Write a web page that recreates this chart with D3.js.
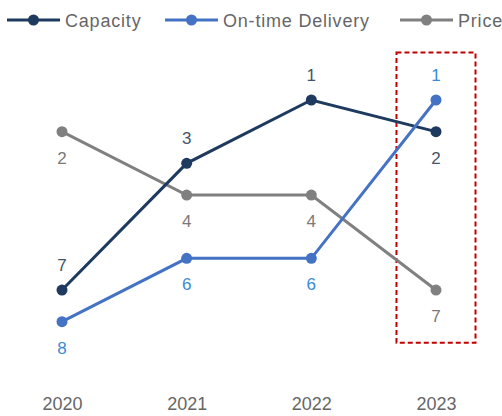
<!DOCTYPE html>
<html><head><meta charset="utf-8">
<script src="https://cdn.jsdelivr.net/npm/d3@7"></script>
<style>html,body{margin:0;padding:0;background:#fff;}</style>
</head><body>
<svg id="chart" width="502" height="416"></svg>
<script>
const years = ["2020", "2021", "2022", "2023"];
const seriesNames = ["Capacity", "On-time Delivery", "Price"];
const capacity = [7, 3, 1, 2];
const delivery = [8, 6, 6, 1];
const price = [2, 4, 4, 7];
const rankDomain = [1, 8];
const highlightYear = "2023";

const colors = ["#1f3a5f", "#4472c4", "#808080"];
const labelColors = ["#44546a", "#3a8ad6", "#7a7a7a"];
const labelAbove = [[true, true, true, false], [false, false, false, true], [false, false, false, false]];
const values = [capacity, delivery, price];

const svg = d3.select("#chart");
const font = "'Liberation Sans', Arial, sans-serif";

const x = d3.scalePoint().domain(years).range([62, 436]);
const y = d3.scaleLinear().domain(rankDomain).range([100, 321.7]);

// highlight rect
const hx = x(highlightYear), half = x.step() * 0.317;
svg.append("rect")
  .attr("x", hx - half).attr("y", y(1) - 47.5)
  .attr("width", half * 2).attr("height", y(8) + 21 - (y(1) - 47.5))
  .attr("fill", "none").attr("stroke", "#c00000").attr("stroke-width", 2)
  .attr("stroke-dasharray", "5,3");

// x axis
const xAxis = d3.axisBottom(x).tickSize(0).tickPadding(0);
const gx = svg.append("g").attr("transform", "translate(0,397)").call(xAxis);
gx.select(".domain").remove();
gx.selectAll("text").attr("font-family", font).attr("font-size", 18).attr("fill", "#666");

const line = d3.line().x((d, i) => x(years[i])).y(d => y(d));

// draw order: price, capacity, delivery
[2, 0, 1].forEach(s => {
  const g = svg.append("g");
  g.append("path").datum(values[s]).attr("d", line)
    .attr("fill", "none").attr("stroke", colors[s]).attr("stroke-width", 3);
  g.selectAll("circle").data(values[s]).join("circle")
    .attr("cx", (d, i) => x(years[i])).attr("cy", d => y(d)).attr("r", 5.5)
    .attr("fill", colors[s]);
});
[0, 1, 2].forEach(s => {
  svg.append("g").selectAll("text").data(values[s]).join("text")
    .attr("x", (d, i) => x(years[i]))
    .attr("y", (d, i) => y(d) + (labelAbove[s][i] ? -19 : 32))
    .attr("text-anchor", "middle")
    .attr("font-family", font).attr("font-size", 17)
    .attr("fill", labelColors[s])
    .text(d => d);
});

// legend
const legendX = [7, 165, 400];
seriesNames.forEach((name, s) => {
  const g = svg.append("g").attr("transform", `translate(${legendX[s]},20)`);
  g.append("line").attr("x1", 0).attr("x2", 53).attr("y1", 0).attr("y2", 0)
    .attr("stroke", colors[s]).attr("stroke-width", 3);
  g.append("circle").attr("cx", 26.5).attr("cy", 0).attr("r", 5.5).attr("fill", colors[s]);
  g.append("text").attr("x", 58).attr("y", 6.5)
    .attr("font-family", font).attr("font-size", 18).attr("letter-spacing", 0.8)
    .attr("fill", "#666").text(name);
});
</script>
</body></html>
